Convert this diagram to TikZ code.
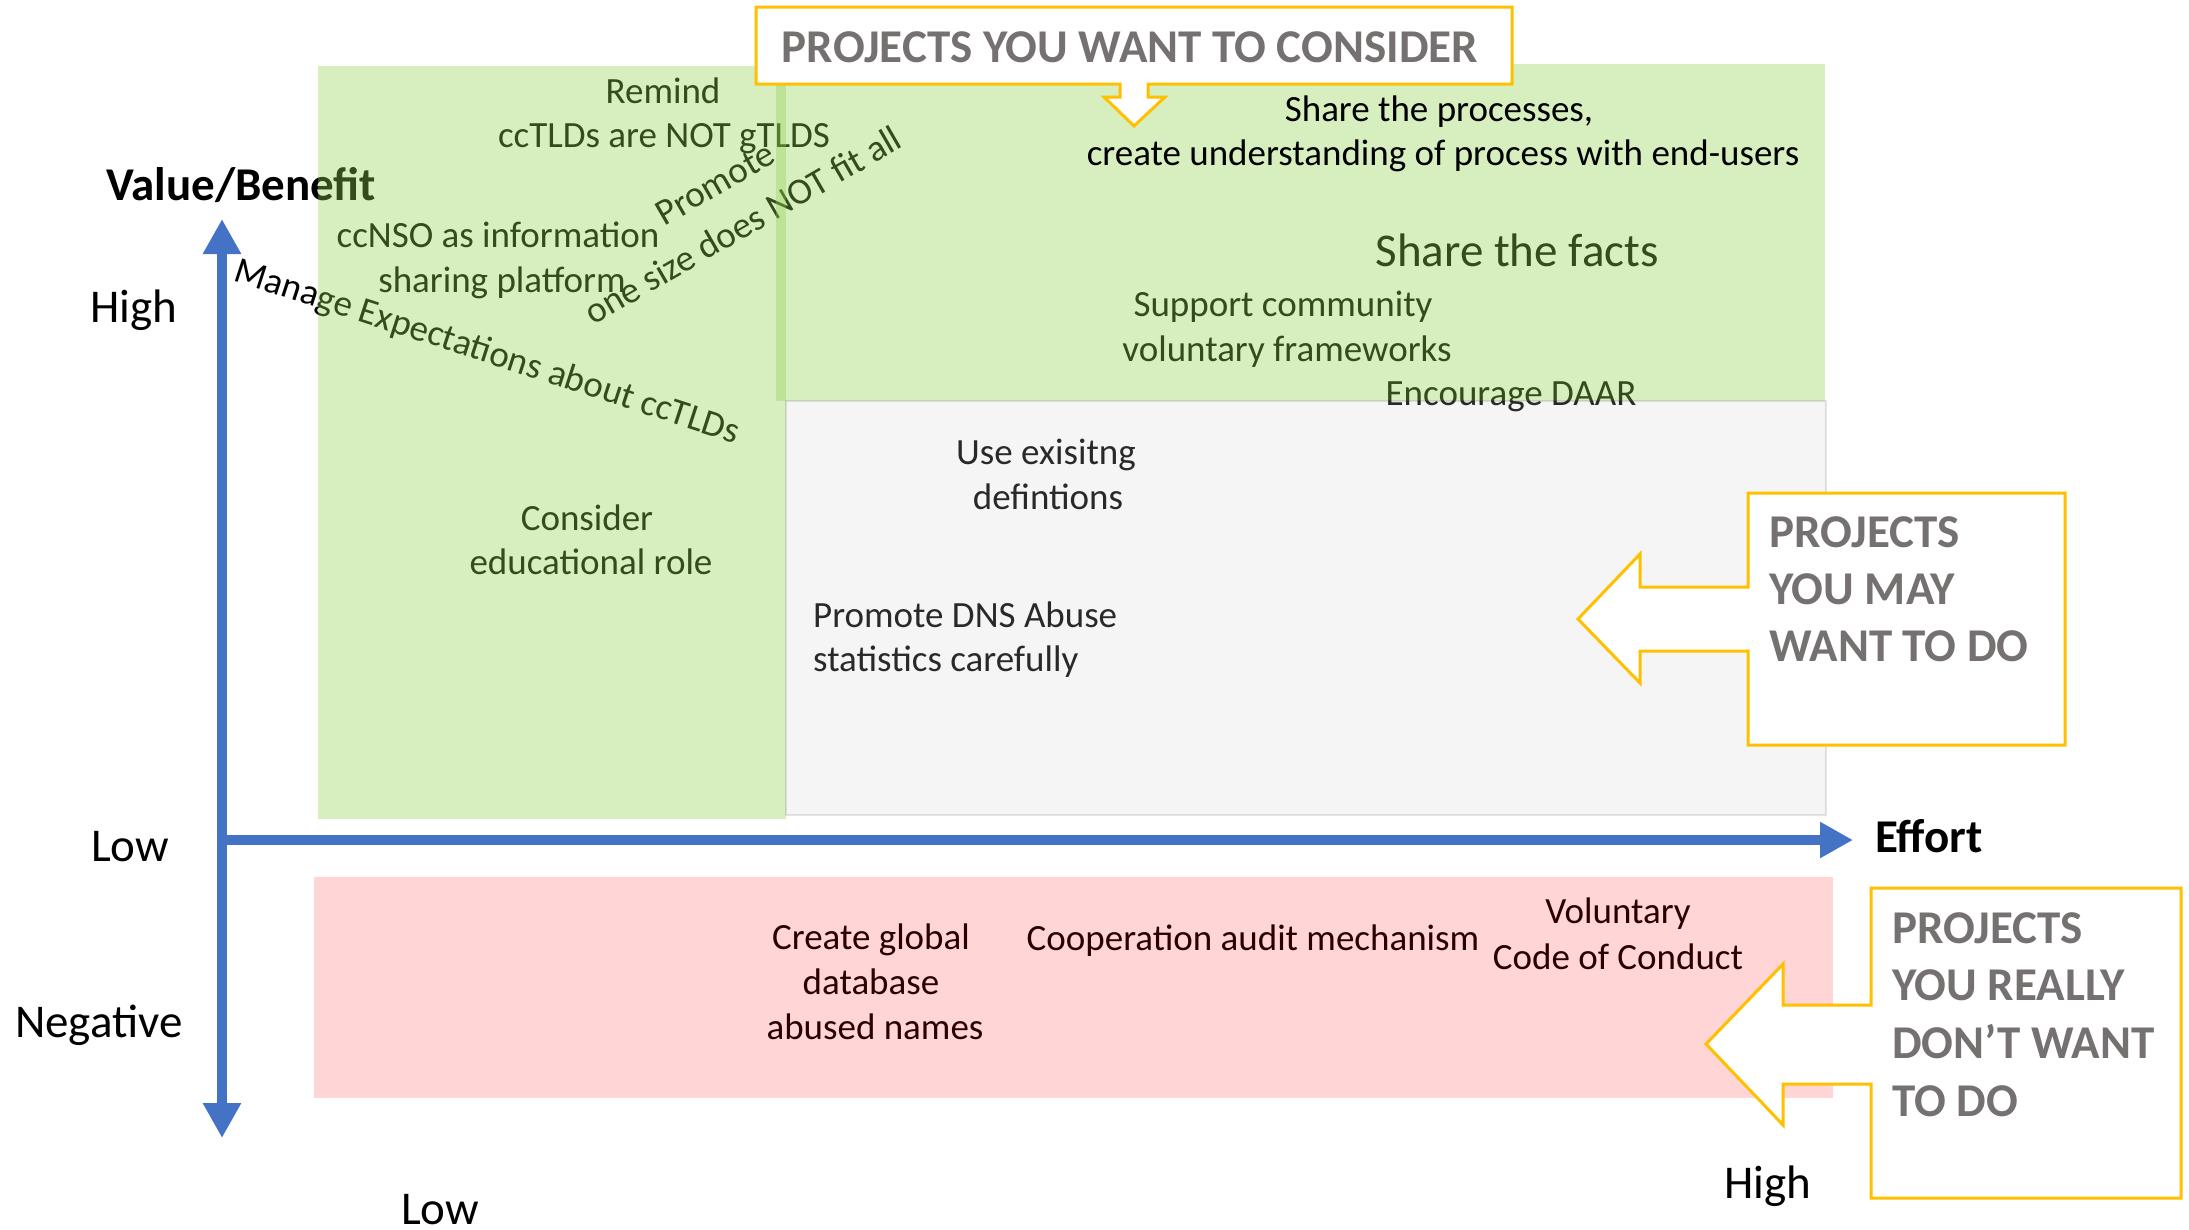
\documentclass[tikz,border=0pt]{standalone}
\usepackage{fontspec}
\setmainfont{Carlito}
\usetikzlibrary{arrows.meta}
\newcommand\bodyfs{\fontsize{37}{45}\selectfont}
\newcommand\bigfs{\fontsize{47}{57}\selectfont}
\definecolor{axisblue}{HTML}{4472C4}
\definecolor{ovgreen}{HTML}{92D050}
\definecolor{ovgray}{HTML}{D0D0D0}
\definecolor{boxgold}{HTML}{FFC000}
\definecolor{boxtext}{HTML}{767171}
\begin{document}
\begin{tikzpicture}[x=1pt,y=-1pt,
  txt/.style={inner sep=0pt, anchor=base, font=\bodyfs, text=black},
  txtl/.style={txt, anchor=base west},
  axlbl/.style={inner sep=0pt, anchor=base west, font=\bigfs, text=black},
  boxlbl/.style={inner sep=0pt, anchor=base west, font=\bigfs\bfseries, text=boxtext},
  greenov/.style={fill=ovgreen, fill opacity=0.36},
  grayov/.style={fill=ovgray, fill opacity=0.2, draw=black, draw opacity=0.1, line width=2.5pt},
  pinkov/.style={fill=red, fill opacity=0.165},
  callout/.style={draw=boxgold, line width=3pt, fill=white, line join=miter},
  axisline/.style={draw=axisblue, line width=10pt}]
\useasboundingbox (0,0) rectangle (2189,1229);
\fill[white] (0,0) rectangle (2189,1229);

% ---- texts lying under the coloured areas ----
\node[axlbl, font=\bigfs\bfseries] (vb) at (106,200) {Value/Benefit};
\node[txt, rotate=-18] (manage) at (484,362) {Manage Expectations about ccTLDs};
\node[txt] (remind1) at (663,103) {Remind};
\node[txt] (remind2) at (664,147) {ccTLDs are NOT gTLDS};
\node[txt] (ccnso1) at (498,247) {ccNSO as information};
\node[txt] (ccnso2) at (502,292) {sharing platform};
\node[txt, rotate=30] (promote1) at (721,194) {Promote};
\node[txt, rotate=30] (promote2) at (749,236) {one size does NOT fit all};
\node[txt] (consider1) at (587,530) {Consider};
\node[txt] (consider2) at (591,574) {educational role};
\node[txt, font=\bigfs] (facts) at (1517,266) {Share the facts};
\node[txt] (support1) at (1283,316) {Support community};
\node[txt] (support2) at (1287,361) {voluntary frameworks};
\node[txt] (daar) at (1511,405) {Encourage DAAR};
\node[txt] (use1) at (1046,464) {Use exisitng};
\node[txt] (use2) at (1048,509) {defintions};
\node[txtl] (dns1) at (813,627) {Promote DNS Abuse};
\node[txtl] (dns2) at (813,671) {statistics carefully};
\node[txt] (create1) at (871,949) {Create global};
\node[txt] (create2) at (871,994) {database};
\node[txt] (create3) at (875,1039) {abused names};
\node[txt] (coop) at (1253,950) {Cooperation audit mechanism};
\node[txt] (vol1) at (1618,923) {Voluntary};
\node[txt] (vol2) at (1618,969) {Code of Conduct};

% ---- coloured areas ----
\path[greenov] (318,66) rectangle (786,819);
\path[greenov] (776,64) rectangle (1825,401);
\path[grayov] (786,401) rectangle (1826,815);
\path[pinkov] (314,877) rectangle (1833,1098);

% ---- texts above ----
\node[txt] (share1) at (1439,121) {Share the processes,};
\node[txt] (share2) at (1443,165) {create understanding of process with end-users};

% ---- axes ----
\coordinate (vtop) at (222,219);
\coordinate (vbot) at (222,1138);
\coordinate (horg) at (222,840);
\coordinate (hend) at (1853,840);
\draw[axisline, arrows={Triangle[length=35pt,width=36pt]-Triangle[length=35pt,width=36pt]}] (vbot) -- (vtop);
\draw[axisline, arrows={-Triangle[length=33pt,width=34pt]}] (horg) -- (hend);

\node[axlbl] (highl) at (90,322) {High};
\node[axlbl] (lowl) at (91,861) {Low};
\node[axlbl] (neg) at (15,1037) {Negative};
\node[axlbl] (lowb) at (401,1224) {Low};
\node[axlbl] (highb) at (1724,1198) {High};
\node[axlbl, font=\bigfs\bfseries] (effort) at (1875,852) {Effort};

% ---- callouts ----
\draw[callout] (756,7) -- (1512,7) -- (1512,84) -- (1148,84) -- (1148,97) -- (1165,97)
  -- (1134,126) -- (1104,97) -- (1120,97) -- (1120,84) -- (756,84) -- cycle;
\node[boxlbl, anchor=base] (c1) at (1130,62) {PROJECTS YOU WANT TO CONSIDER};

\draw[callout] (1748,493) -- (2065,493) -- (2065,745) -- (1748,745) -- (1748,651) -- (1640,651)
  -- (1640,683) -- (1578,619) -- (1640,554) -- (1640,587) -- (1748,587) -- cycle;
\node[boxlbl] (c2a) at (1769,547) {PROJECTS};
\node[boxlbl] (c2b) at (1769,604) {YOU MAY};
\node[boxlbl] (c2c) at (1769,661) {WANT TO DO};

\draw[callout] (1871,888) -- (2181,888) -- (2181,1198) -- (1871,1198) -- (1871,1084) -- (1783,1084)
  -- (1783,1125) -- (1706,1044) -- (1783,964) -- (1783,1005) -- (1871,1005) -- cycle;
\node[boxlbl] (c3a) at (1892,943) {PROJECTS};
\node[boxlbl] (c3b) at (1892,1000) {YOU REALLY};
\node[boxlbl] (c3c) at (1892,1058) {DON’T WANT};
\node[boxlbl] (c3d) at (1892,1116) {TO DO};
\end{tikzpicture}
\end{document}
